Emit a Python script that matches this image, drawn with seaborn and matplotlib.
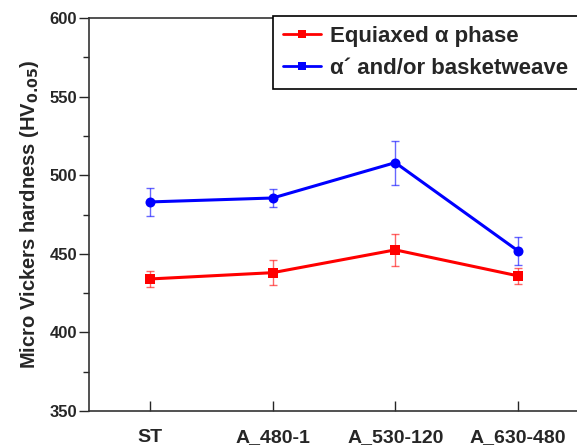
import matplotlib
matplotlib.use("Agg")
import matplotlib.pyplot as plt
import seaborn as sns
import pandas as pd
from matplotlib.lines import Line2D
from matplotlib.ticker import MultipleLocator

categories = ["ST", "A_480-1", "A_530-120", "A_630-480"]
equiaxed = [434, 438, 452.5, 436]
equiaxed_err = [5, 8, 10, 5]
basket = [483, 485.5, 508, 452]
basket_err = [9, 6, 14, 9]
series_names = ["Equiaxed \u03b1 phase", "\u03b1\u00b4 and/or basketweave"]
colors = ["#ff0000", "#0000ff"]

sns.set_style("ticks")
plt.rcParams["font.family"] = ["Liberation Sans", "DejaVu Sans"]
plt.rcParams["font.weight"] = "bold"

df = pd.DataFrame({
    "x": list(range(len(categories))) * 2,
    "y": equiaxed + basket,
    "s": [series_names[0]] * 4 + [series_names[1]] * 4,
})

fig = plt.figure(figsize=(5.77, 4.48), dpi=100)
ax = fig.add_axes([89 / 577, 37 / 448, 490 / 577, 393 / 448])

xs = list(range(len(categories)))
ax.errorbar(xs, equiaxed, yerr=equiaxed_err, fmt="none", ecolor=colors[0],
            alpha=0.6, elinewidth=1, capsize=3, capthick=1)
ax.errorbar(xs, basket, yerr=basket_err, fmt="none", ecolor=colors[1],
            alpha=0.6, elinewidth=1, capsize=3, capthick=1)
sns.lineplot(data=df, x="x", y="y", hue="s", style="s", palette=colors,
             markers=["s", "o"], dashes=False, markersize=7.2, linewidth=2.2,
             markeredgewidth=0, ax=ax, legend=False)

ax.set_xlim(-0.5, 3.5)
ax.set_ylim(350, 600)
ax.set_xticks(xs)
ax.set_xticklabels(categories, fontsize=14, fontweight="bold")
ax.yaxis.set_major_locator(MultipleLocator(50))
ax.yaxis.set_minor_locator(MultipleLocator(25))
for lab in ax.get_yticklabels():
    lab.set_fontsize(12)
    lab.set_fontweight("bold")
ax.tick_params(axis="x", direction="in", length=7, width=1, pad=13)
ax.tick_params(axis="y", which="major", direction="out", length=7, width=1, pad=1.5)
ax.tick_params(axis="y", which="minor", direction="out", length=4, width=1)
ax.set_xlabel("")
ax.set_ylabel("Micro Vickers hardness (HV$_{\\mathbf{0.05}}$)", fontsize=14.5,
              fontweight="bold", labelpad=6)
for sp in ax.spines.values():
    sp.set_linewidth(1.2)
    sp.set_color("#333333")

handles = [Line2D([0], [0], color=c, lw=2, marker="s", markersize=6,
                  markeredgewidth=0) for c in colors]
leg = ax.legend(handles, series_names, loc="upper left",
                bbox_to_anchor=(184 / 490, 1.006), fancybox=False, framealpha=1,
                edgecolor="black", prop={"size": 16, "weight": "bold"},
                handlelength=1.7, handletextpad=0.4, borderpad=0.45,
                labelspacing=0.5, borderaxespad=0)
leg.get_frame().set_linewidth(1.2)

fig.savefig("out.png", dpi=100)
